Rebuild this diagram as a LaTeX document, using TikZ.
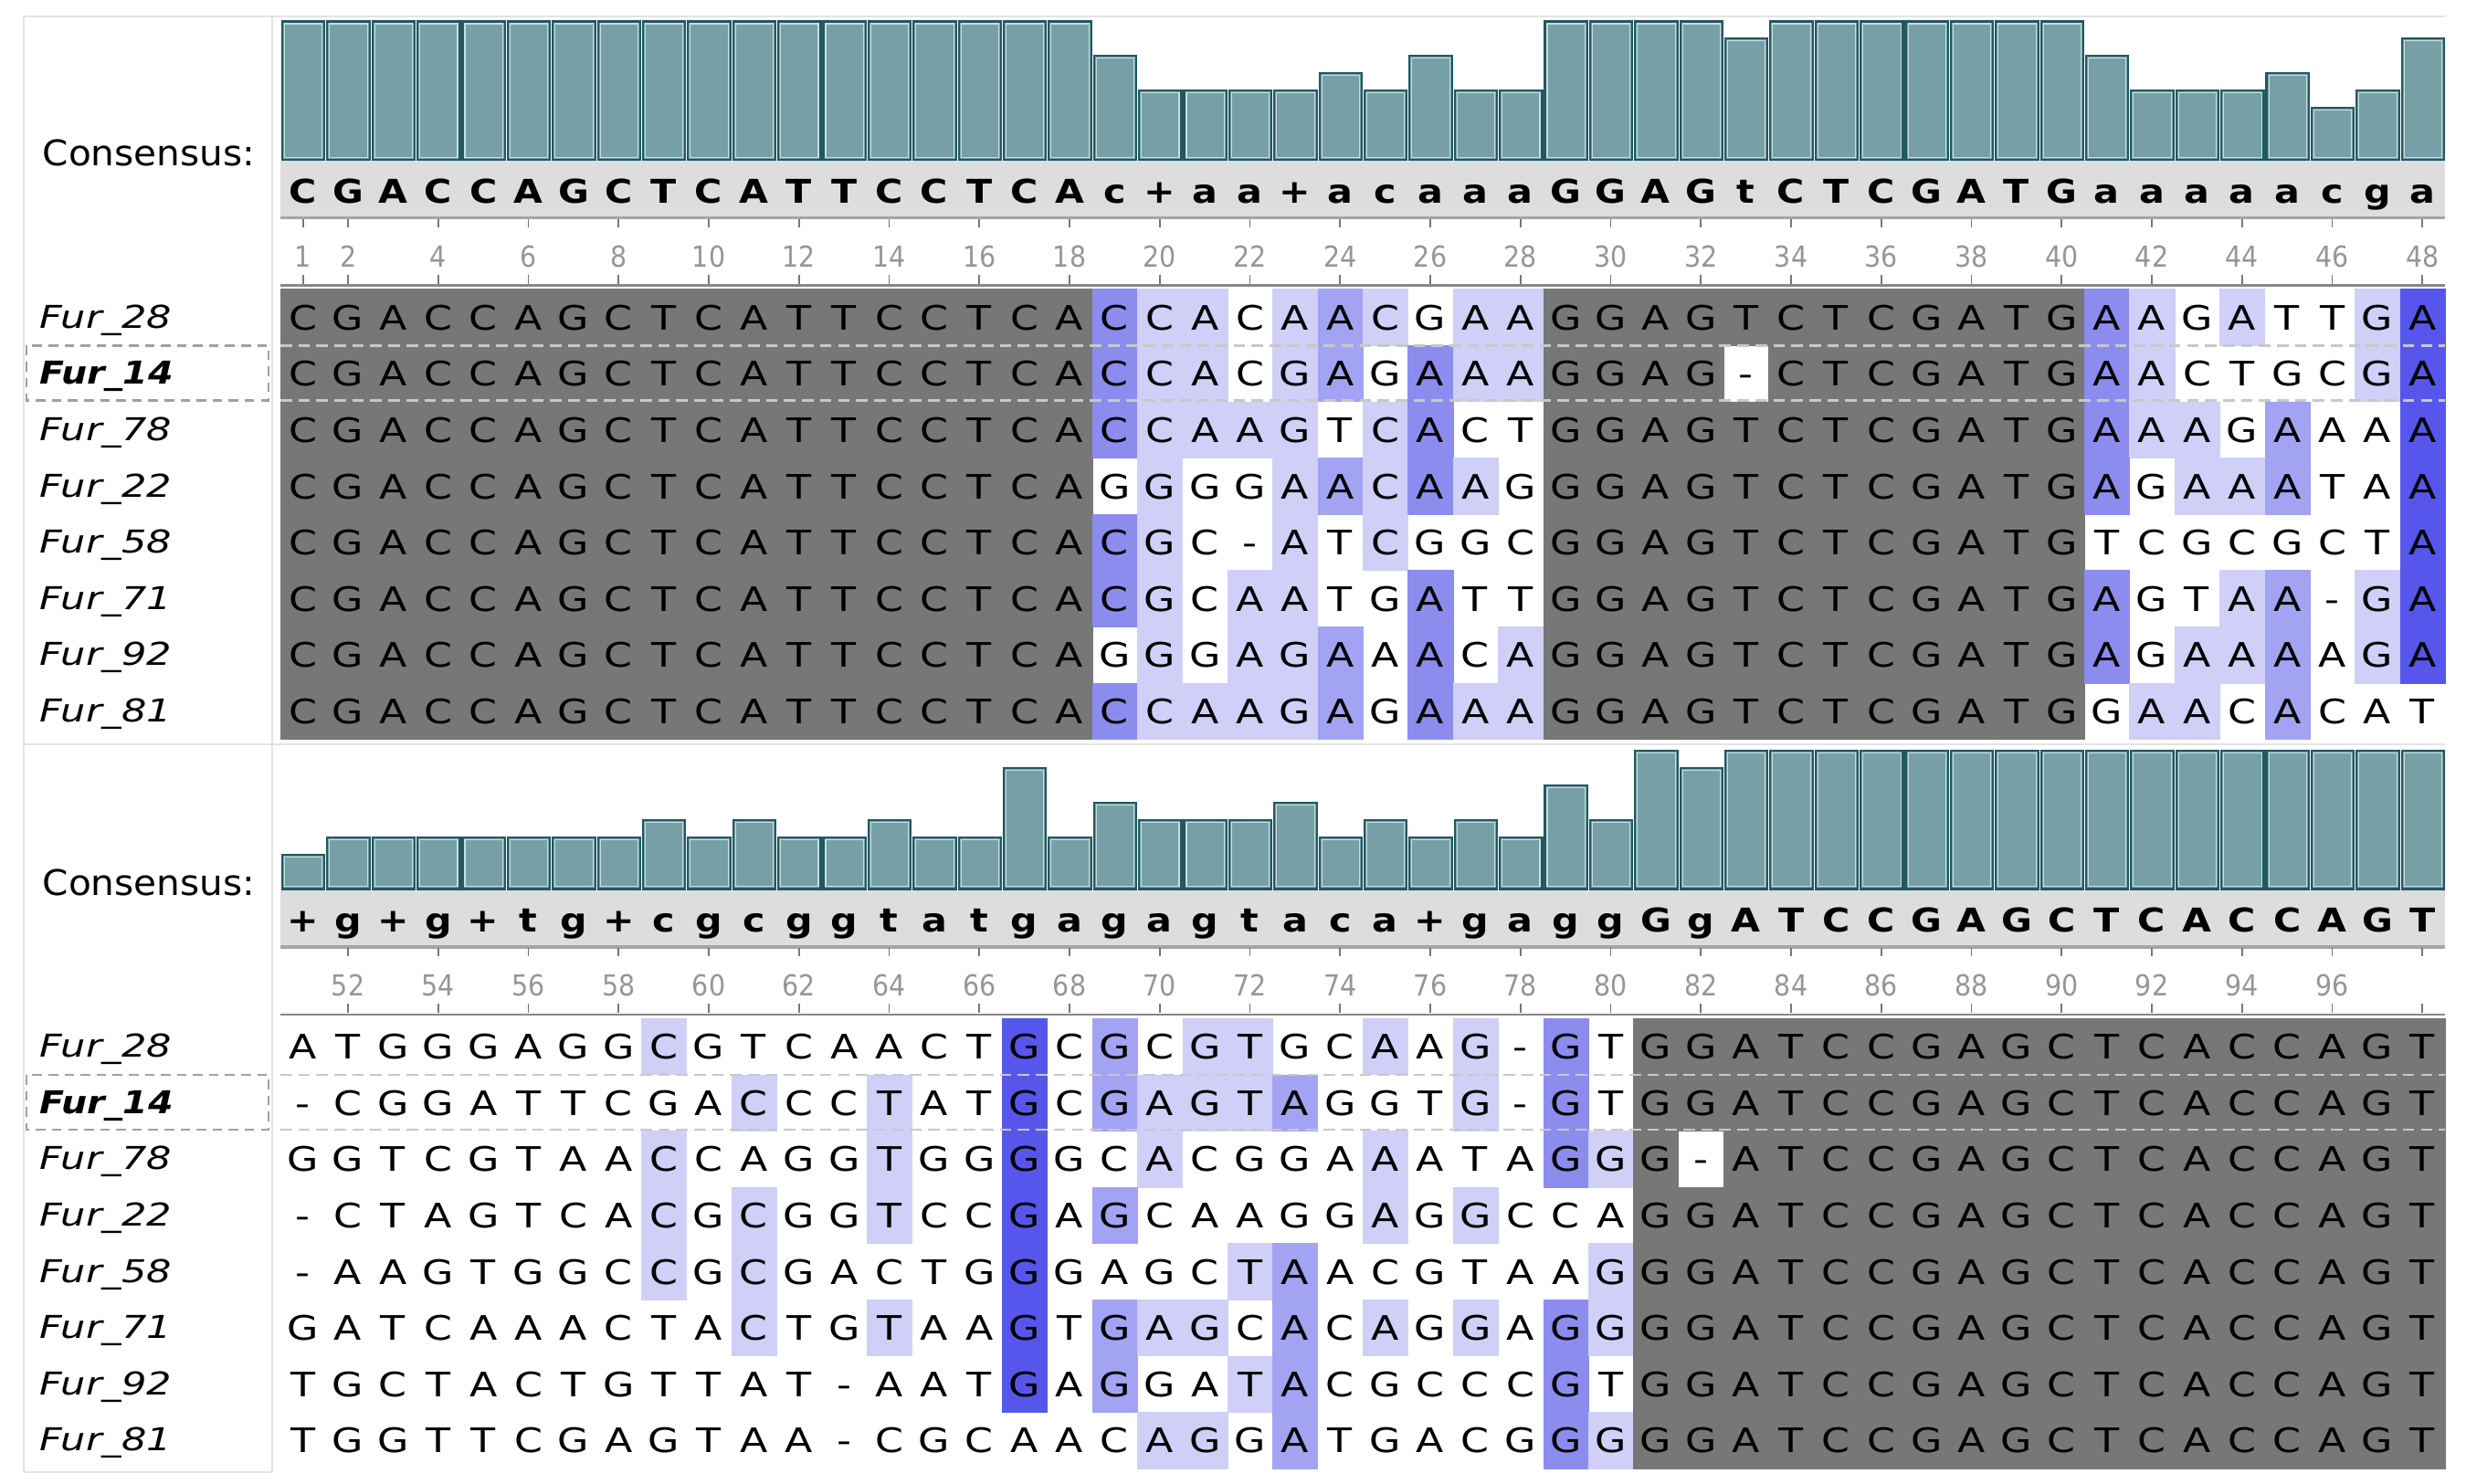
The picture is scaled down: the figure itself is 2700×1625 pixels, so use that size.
\documentclass[tikz,border=0pt]{standalone}
\usepackage{fontspec}
\setmainfont{DejaVu Sans}
\definecolor{cellgray}{RGB}{119,119,119}
\colorlet{shdg}{cellgray}
\definecolor{shd1}{RGB}{207,207,248}
\definecolor{shd2}{RGB}{163,163,243}
\definecolor{shd3}{RGB}{140,140,239}
\definecolor{shd4}{RGB}{86,86,236}
\definecolor{barfill}{RGB}{118,160,166}
\definecolor{barline}{RGB}{33,88,98}
\definecolor{barlight}{RGB}{200,222,224}
\definecolor{bandgray}{RGB}{221,221,221}
\definecolor{bandlinec}{RGB}{165,165,165}
\definecolor{seqlinec}{RGB}{135,135,135}
\definecolor{tickgray}{RGB}{120,120,120}
\definecolor{numgray}{RGB}{150,150,150}
\definecolor{framegray}{RGB}{228,228,228}
\definecolor{dashgray}{RGB}{200,200,200}
\definecolor{boxgray}{RGB}{160,160,160}

\newcount\cellcol
% one alignment row: #1 block, #2 row, #3 letters, #4 shading codes
\def\seqrow#1#2#3#4{\global\cellcol=0 \def\blk{#1}\def\rownum{#2}%
  \pgfmathsetmacro\rowy{316.5+(#2-1)*61.6}%
  \seqloop#3\END#4\END}
\def\seqloop#1#2\END#3#4\END{\seqcell{#1}{#3}%
  \ifx\relax#2\relax\else\seqloop#2\END#4\END\fi}
\def\seqcell#1#2{\global\advance\cellcol by 1
  \pgfmathsetmacro\cellx{307+(\the\cellcol-1)*49.375}%
  \edef\cellname{b\blk r\rownum c\the\cellcol}%
  \if w#2\else\fill[shd#2] (\cellx,\rowy) rectangle ++(50.2,62.4);\fi
  \node[seqletter] (\cellname) at (\cellx+24.69,\rowy+44.8) {#1};}
% consensus row
\def\consrow#1#2{\global\cellcol=0 \def\blk{#1}\consloop#2\END}
\def\consloop#1#2\END{\conscell{#1}\ifx\relax#2\relax\else\consloop#2\END\fi}
\def\conscell#1{\global\advance\cellcol by 1
  \pgfmathsetmacro\cellx{307+(\the\cellcol-0.5)*49.375}%
  \edef\cellname{cons\blk c\the\cellcol}%
  \node[consletter] (\cellname) at (\cellx,222.5) {#1};}
% bars
\newcommand\drawbars[2]{%
  \foreach \h [count=\i] in {#2} {%
    \pgfmathsetmacro\xa{307+(\i-1)*49.375+2}%
    \pgfmathsetmacro\xb{307+\i*49.375-1}%
    \pgfmathsetmacro\ya{175-\h*151.5/8}%
    \draw[cbar] (\xa,\ya) rectangle (\xb,175);
    \draw[barinner] (\xa+2.5,\ya+2.5) rectangle (\xb-2.5,172.5);
  }}
% names column
\newcommand\drawnames[1]{%
  \foreach \nm [count=\r] in {28,14,78,22,58,71,92,81} {%
    \pgfmathsetmacro\ny{347.3+(\r-1)*61.6+12}%
    \ifnum\r=2
      \node[refname] (name#1-\r) at (43,\ny) {Fur\_\nm};
    \else
      \node[seqname] (name#1-\r) at (43,\ny) {Fur\_\nm};
    \fi
  }
  \draw[refdash] (307,378.5) -- (2677,378.5);
  \draw[refdash] (307,438.5) -- (2677,438.5);
  \draw[refbox] (29,378.5) rectangle (294,438.5);
}

\begin{document}
\begin{tikzpicture}[x=0.01cm,y=-0.01cm,
  seqletter/.style={font=\fontsize{10.5}{12}\selectfont, xscale=1.2, inner sep=0pt, anchor=base},
  consletter/.style={font=\bfseries\fontsize{10.2}{12}\selectfont, xscale=1.15, inner sep=0pt, anchor=base},
  seqname/.style={font=\itshape\fontsize{9.8}{12}\selectfont, xscale=1.25, inner sep=0pt, anchor=base west},
  refname/.style={font=\bfseries\itshape\fontsize{9.8}{12}\selectfont, xscale=1.15, inner sep=0pt, anchor=base west},
  conslabel/.style={font=\fontsize{11}{13}\selectfont, xscale=1.05, inner sep=0pt, anchor=base west},
  posnum/.style={font=\fontsize{9}{11}\selectfont, xscale=0.9, text=numgray, inner sep=0pt, anchor=base},
  cbar/.style={fill=barfill, draw=barline, line width=0.6pt},
  barinner/.style={draw=barlight, line width=0.3pt},
  tickmark/.style={draw=tickgray, line width=0.5pt},
  frameline/.style={draw=framegray, line width=0.8pt},
  bandline/.style={draw=bandlinec, line width=0.9pt},
  seqline/.style={draw=seqlinec, line width=0.8pt},
  refdash/.style={draw=dashgray, line width=0.75pt, dash pattern=on 3.6pt off 2pt},
  refbox/.style={draw=boxgray, line width=0.6pt, dash pattern=on 3pt off 2pt}]
\useasboundingbox (0,0) rectangle (2700,1625);
\fill[white] (0,0) rectangle (2700,1625);

% frame
\draw[frameline] (26,18) -- (2677,18);
\draw[frameline] (26,815) -- (2677,815);
\draw[frameline] (26,18) -- (26,1612);
\draw[frameline] (298,18) -- (298,1612);
\draw[frameline] (26,1612) -- (298,1612);

% ================= BLOCK 1 =================
\node[conslabel] (conslabel1) at (46,182) {Consensus:};
\drawbars{1}{8,8,8,8,8,8,8,8,8,8,8,8,8,8,8,8,8,8,6,4,4,4,4,5,4,6,4,4,8,8,8,8,7,8,8,8,8,8,8,8,6,4,4,4,5,3,4,7}
\fill[bandgray] (307,176.5) rectangle (2677,237);
\consrow{1}{CGACCAGCTCATTCCTCAc+aa+acaaaGGAGtCTCGATGaaaaacga}
\draw[bandline] (307,238.5) -- (2677,238.5);
\foreach \c in {1,2,4,...,48} {
  \pgfmathsetmacro\cx{307+(\c-0.5)*49.375}
  \draw[tickmark] (\cx,240) -- (\cx,249);
  \draw[tickmark] (\cx,301) -- (\cx,311);
  \node[posnum] (num1-\c) at (\cx,292.5) {\c};
}
\draw[seqline] (307,312.5) -- (2677,312.5);
\seqrow{1}{1}{CGACCAGCTCATTCCTCACCACAACGAAGGAGTCTCGATGAAGATTGA}{gggggggggggggggggg 311w121w11 gggggggggggg 31w1ww14}
\seqrow{1}{2}{CGACCAGCTCATTCCTCACCACGAGAAAGGAG-CTCGATGAACTGCGA}{gggggggggggggggggg 311w12w311 ggggwggggggg 31wwww14}
\seqrow{1}{3}{CGACCAGCTCATTCCTCACCAAGTCACTGGAGTCTCGATGAAAGAAAA}{gggggggggggggggggg 31111w13ww gggggggggggg 311w2ww4}
\seqrow{1}{4}{CGACCAGCTCATTCCTCAGGGGAACAAGGGAGTCTCGATGAGAAATAA}{gggggggggggggggggg w1ww12131w gggggggggggg 3w112ww4}
\seqrow{1}{5}{CGACCAGCTCATTCCTCACGC-ATCGGCGGAGTCTCGATGTCGCGCTA}{gggggggggggggggggg 31ww1w1www gggggggggggg wwwwwww4}
\seqrow{1}{6}{CGACCAGCTCATTCCTCACGCAATGATTGGAGTCTCGATGAGTAA-GA}{gggggggggggggggggg 31w11ww3ww gggggggggggg 3ww12w14}
\seqrow{1}{7}{CGACCAGCTCATTCCTCAGGGAGAAACAGGAGTCTCGATGAGAAAAGA}{gggggggggggggggggg w1w112w3w1 gggggggggggg 3w112w14}
\seqrow{1}{8}{CGACCAGCTCATTCCTCACCAAGAGAAAGGAGTCTCGATGGAACACAT}{gggggggggggggggggg 311112w311 gggggggggggg w11w2www}
\drawnames{1}

% ================= BLOCK 2 =================
\begin{scope}[yshift=-7.98cm]
\node[conslabel] (conslabel2) at (46,182) {Consensus:};
\drawbars{2}{2,3,3,3,3,3,3,3,4,3,4,3,3,4,3,3,7,3,5,4,4,4,5,3,4,3,4,3,6,4,8,7,8,8,8,8,8,8,8,8,8,8,8,8,8,8,8,8}
\fill[bandgray] (307,176.5) rectangle (2677,237);
\consrow{2}{+g+g+tg+cgcggtatgagagtaca+gaggGgATCCGAGCTCACCAGT}
\draw[bandline] (307,238.5) -- (2677,238.5);
\foreach \c in {2,4,...,48} {
  \pgfmathsetmacro\cx{307+(\c-0.5)*49.375}
  \draw[tickmark] (\cx,240) -- (\cx,249);
  \draw[tickmark] (\cx,301) -- (\cx,311);
}
\foreach \c in {2,4,...,46} {
  \pgfmathsetmacro\cx{307+(\c-0.5)*49.375}
  \pgfmathtruncatemacro\lab{\c+50}
  \node[posnum] (num2-\c) at (\cx,292.5) {\lab};
}
\draw[seqline] (307,312.5) -- (2677,312.5);
\seqrow{2}{1}{ATGGGAGGCGTCAACTGCGCGTGCAAG-GTGGATCCGAGCTCACCAGT}{wwwwwwww 1wwwwwww 4w2w11ww 1w1w3w gggggggggggggggggg}
\seqrow{2}{2}{-CGGATTCGACCCTATGCGAGTAGGTG-GTGGATCCGAGCTCACCAGT}{wwwwwwww ww1ww1ww 4w21112w ww1w3w gggggggggggggggggg}
\seqrow{2}{3}{GGTCGTAACCAGGTGGGGCACGGAAATAGGG-ATCCGAGCTCACCAGT}{wwwwwwww 1wwww1ww 4ww1wwww 1www31 gwgggggggggggggggg}
\seqrow{2}{4}{-CTAGTCACGCGGTCCGAGCAAGGAGGCCAGGATCCGAGCTCACCAGT}{wwwwwwww 1w1ww1ww 4w2wwwww 1w1www gggggggggggggggggg}
\seqrow{2}{5}{-AAGTGGCCGCGACTGGGAGCTAACGTAAGGGATCCGAGCTCACCAGT}{wwwwwwww 1w1wwwww 4wwww12w wwwww1 gggggggggggggggggg}
\seqrow{2}{6}{GATCAAACTACTGTAAGTGAGCACAGGAGGGGATCCGAGCTCACCAGT}{wwwwwwww ww1ww1ww 4w211w2w 1w1w31 gggggggggggggggggg}
\seqrow{2}{7}{TGCTACTGTTAT-AATGAGGATACGCCCGTGGATCCGAGCTCACCAGT}{wwwwwwww wwwwwwww 4w2ww12w wwww3w gggggggggggggggggg}
\seqrow{2}{8}{TGGTTCGAGTAA-CGCAACAGGATGACGGGGGATCCGAGCTCACCAGT}{wwwwwwww wwwwwwww www11w2w wwww31 gggggggggggggggggg}
\drawnames{2}
\end{scope}
\end{tikzpicture}
\end{document}
